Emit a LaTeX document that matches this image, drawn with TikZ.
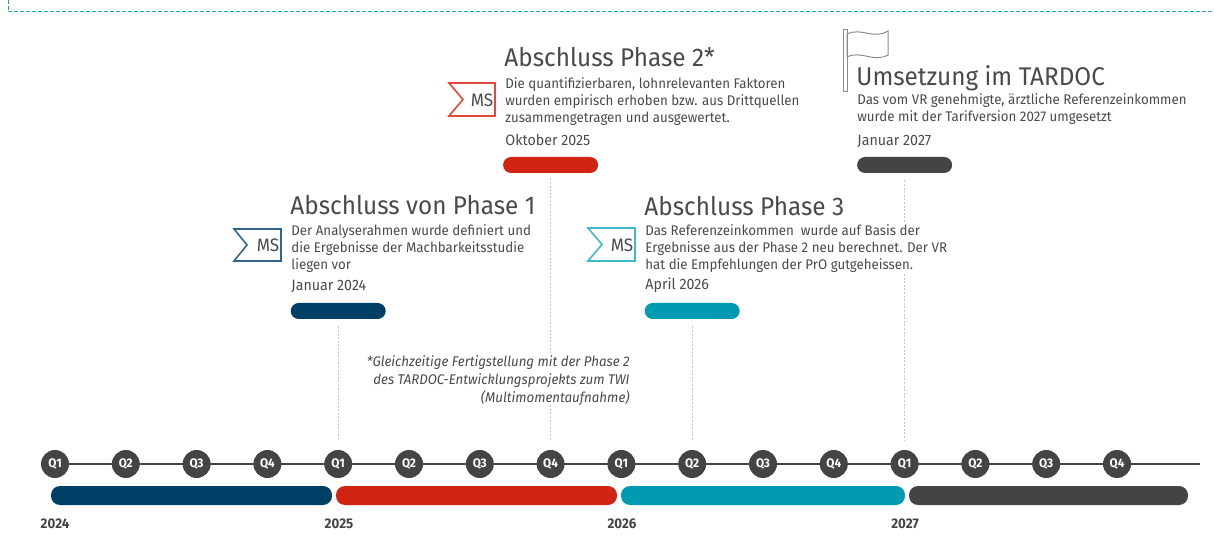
\documentclass[tikz,border=0pt]{standalone}
\usepackage{fontspec}
\setmainfont{Fira Sans}[FakeStretch=0.95]
\usepackage{xcolor}
\usepackage{tikz}

\definecolor{phaseblue}{HTML}{003F66}
\definecolor{phasered}{HTML}{D22412}
\definecolor{phaseteal}{HTML}{009BB1}
\definecolor{phasegrey}{HTML}{444444}
\definecolor{iconblue}{HTML}{2F6690}
\definecolor{iconred}{HTML}{E2483A}
\definecolor{iconteal}{HTML}{3DB9CC}
\definecolor{txtgrey}{HTML}{4A4A4A}
\definecolor{framecyan}{HTML}{1BA6C6}

\tikzset{
  quarter/.style={circle, fill=phasegrey, text=white, inner sep=0pt, minimum size=14pt,
    font=\fontsize{6.2}{7}\selectfont\bfseries},
  pill/.style={rectangle, rounded corners=4pt, minimum width=47.5pt, minimum height=8pt, inner sep=0pt},
  leader/.style={draw=black!22, line width=0.5pt, dash pattern=on 1pt off 0.8pt},
  msicon/.style={line width=0.8pt, line join=miter},
  mstext/.style={inner sep=0pt, text=txtgrey, font=\fontsize{9}{10}\selectfont},
  title/.style={anchor=base west, inner sep=0pt, text=txtgrey, font=\fontsize{12.8}{14}\selectfont},
  body/.style={anchor=north west, inner sep=0pt, align=left, text=txtgrey,
    font=\fontsize{7}{8.5}\selectfont},
  date/.style={anchor=west, inner sep=0pt, text=txtgrey, font=\fontsize{7.5}{8.5}\selectfont},
  year/.style={inner sep=0pt, text=phasegrey, font=\fontsize{7}{8}\selectfont\bfseries}
}

\begin{document}
\begin{tikzpicture}[x=0.5pt, y=-0.5pt]
    \useasboundingbox (0,0) rectangle (1214,549);

    % Frame edge
    \draw[framecyan, line width=0.5pt, dash pattern=on 2pt off 1pt] (8,0) -- (8,12) -- (1214,12);

    % Timeline axis
    \coordinate (tlstart) at (55,464);
    \coordinate (tlend) at (1200,464);
    \draw[phasegrey, line width=1pt] (tlstart) -- (tlend);

    % Quarters
    \foreach \n in {0,...,15} {
        \pgfmathtruncatemacro\qq{mod(\n,4)+1}
        \node[quarter] (q\n) at ({55+70.8*\n},464) {Q\qq};
    }

    % Year bars
    \fill[phaseblue, rounded corners=4.5pt] (51,486) rectangle (332,505);
    \fill[phasered, rounded corners=4.5pt] (336,486) rectangle (617,505);
    \fill[phaseteal, rounded corners=4.5pt] (621,486) rectangle (905,505);
    \fill[phasegrey, rounded corners=4.5pt] (909,486) rectangle (1188,505);

    % Year labels
    \node[year] (y2024) at (55,524) {2024};
    \node[year] (y2025) at (339,524) {2025};
    \node[year] (y2026) at (622,524) {2026};
    \node[year] (y2027) at (905,524) {2027};

    % Milestone pills
    \node[pill, fill=phaseblue] (p1) at (q4 |- 0,311) {};
    \node[pill, fill=phasered] (p2) at (q7 |- 0,165) {};
    \node[pill, fill=phaseteal] (p3) at (q9 |- 0,311) {};
    \node[pill, fill=phasegrey] (p4) at (q12 |- 0,165) {};

    % Leaders from pills down to the quarters
    \draw[leader, shorten <=3.5pt, shorten >=4.5pt] (p1.south) -- (q4.north);
    \draw[leader, shorten <=2.5pt, shorten >=4.5pt] (p2.south) -- (q7.north);
    \draw[leader, shorten <=3.5pt, shorten >=4.5pt] (p3.south) -- (q9.north);
    \draw[leader, shorten <=3.5pt, shorten >=4.5pt] (p4.south) -- (q12.north);

    % MS icons
    \draw[msicon, iconblue] (234,229) -- (281,229) -- (281,261) -- (234,261) -- (247,245) -- cycle;
    \node[mstext] (ms1) at (268,245) {MS};
    \draw[msicon, iconred] (449,83) -- (495,83) -- (495,116) -- (449,116) -- (463,99.5) -- cycle;
    \node[mstext] (ms2) at (482,100) {MS};
    \draw[msicon, iconteal] (588,228) -- (635,228) -- (635,261) -- (588,261) -- (602,244.5) -- cycle;
    \node[mstext] (ms3) at (622,245) {MS};

    % Flag icon
    \draw[black!45, line width=0.5pt] (843,30) rectangle (847,92);
    \draw[black!45, line width=0.5pt] (847,34) .. controls (862,27) and (873,40) .. (888,31)
        -- (888,55) .. controls (873,63) and (862,50) .. (847,57) -- cycle;

    % Phase 1
    \node[title] (t1) at (290,215) {Abschluss von Phase 1};
    \node[body] (b1) at (291,224) {Der Analyserahmen wurde definiert und\\die Ergebnisse der Machbarkeitsstudie\\liegen vor};
    \node[date] (d1) at (291,286) {Januar 2024};

    % Phase 2
    \node[title] (t2) at (504,67) {Abschluss Phase 2*};
    \node[body] (b2) at (505,77) {Die quantifizierbaren, lohnrelevanten Faktoren\\wurden empirisch erhoben bzw. aus Drittquellen\\zusammengetragen und ausgewertet.};
    \node[date] (d2) at (505,140) {Oktober 2025};

    % Phase 3
    \node[title] (t3) at (644,216) {Abschluss Phase 3};
    \node[body, fill=white] (b3) at (645,224) {Das Referenzeinkommen\ \ wurde auf Basis der\\Ergebnisse aus der Phase 2 neu berechnet. Der VR\\hat die Empfehlungen der PrO gutgeheissen.};
    \node[date] (d3) at (645,285) {April 2026};

    % Umsetzung
    \node[title] (t4) at (856,86) {Umsetzung im TARDOC};
    \node[body] (b4) at (857,93) {Das vom VR genehmigte, ärztliche Referenzeinkommen\\wurde mit der Tarifversion 2027 umgesetzt};
    \node[date] (d4) at (857,141) {Januar 2027};

    % Footnote
    \node[body, anchor=north east, align=right, fill=white, font=\fontsize{7}{9}\selectfont\itshape] (fn) at (630,355)
        {*Gleichzeitige Fertigstellung mit der Phase 2\\des TARDOC-Entwicklungsprojekts zum TWI\\(Multimomentaufnahme)};
\end{tikzpicture}
\end{document}
